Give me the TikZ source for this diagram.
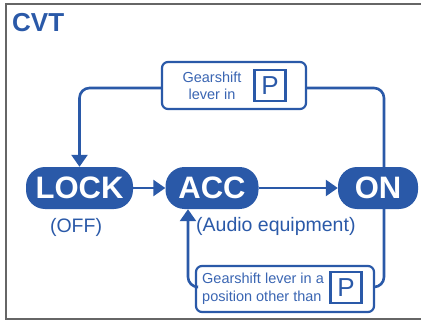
\documentclass[tikz,border=0pt]{standalone}
\usepackage{fontspec}
\setmainfont{Liberation Sans}
\usetikzlibrary{arrows.meta}
\definecolor{cvtblue}{HTML}{2A59A8}
\definecolor{lightblue}{HTML}{3A65B2}
\definecolor{frame}{HTML}{666666}
\tikzset{
  pill/.style={rounded corners=19pt, fill=cvtblue, text=white, font=\fontsize{31}{31}\selectfont\bfseries,
    minimum height=42pt, inner sep=0pt, anchor=center},
  condbox/.style={draw=cvtblue, line width=2.2pt, rounded corners=6pt, inner sep=0pt},
  condtext/.style={text=lightblue, font=\fontsize{14.5}{17.5}\selectfont, align=center, inner sep=0pt},
  pbox/.style={draw=cvtblue, line width=2.2pt, minimum size=31pt, inner sep=0pt, text=cvtblue,
    font=\fontsize{26}{26}\selectfont},
  conn/.style={draw=cvtblue, line width=2.6pt, rounded corners=10pt},
  tip/.style={-{Triangle[length=12pt,width=16pt]}},
  sub/.style={text=cvtblue, font=\fontsize{19.5}{20}\selectfont, inner sep=0pt}
}
\begin{document}
\begin{tikzpicture}[x=1pt,y=-1pt]
\useasboundingbox (0,0) rectangle (421,321);
% frame
\draw[frame, line width=2pt] (421,4) -- (5.5,4) -- (5.5,319) -- (421,319);
\node[text=cvtblue, font=\fontsize{26}{26}\selectfont\bfseries, anchor=west, inner sep=0pt] (title) at (12,23) {CVT};
% state pills
\node[pill, minimum width=107pt] (lock) at (79.5,188) {LOCK};
\node[pill, minimum width=93pt] (acc) at (212,188) {ACC};
\node[pill, minimum width=80pt] (on) at (378,188) {ON};
\node[sub] (off) at (76,227) {(OFF)};
\node[sub, anchor=west] (audio) at (196,226) {(Audio equipment)};
% top condition box
\node[condbox, minimum width=144pt, minimum height=47pt] (tb) at (234,85.5) {};
\node[condtext] (tbt) at (212,86) {Gearshift\\lever in};
\node[pbox] (tbp) at (270,85.5) {P};
% bottom condition box
\node[condbox, minimum width=178pt, minimum height=46pt] (bb) at (285,289) {};
\node[condtext, align=left, anchor=west] (bbt) at (202,289) {Gearshift lever in a\\position other than};
\node[pbox] (bbp) at (346,287.5) {P};
% connectors
\draw[conn, tip] ([yshift=-2.5pt]tb.west) -| (lock.north);
\draw[conn] ([yshift=-2.5pt]tb.east) -| ([xshift=6pt]on.north);
\draw[conn, tip] (lock.east) -- (acc.west);
\draw[conn, tip] (acc.east) -- (on.west);
\draw[conn] ([xshift=6pt]on.south) |- ([yshift=2pt]bb.east);
\draw[conn, tip] ([yshift=2pt]bb.west) -| ([xshift=-24pt]acc.south);
\end{tikzpicture}
\end{document}
